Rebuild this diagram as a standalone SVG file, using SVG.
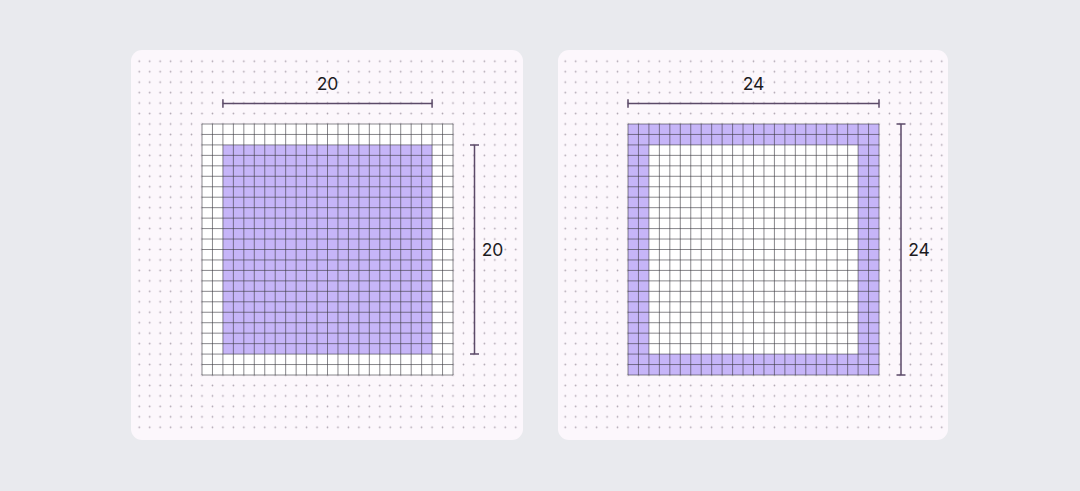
<svg xmlns="http://www.w3.org/2000/svg" xmlns:xlink="http://www.w3.org/1999/xlink" width="1080" height="491" viewBox="0 0 1080 491">
<style>
.panel{fill:#fcf7fc}
.grid{fill:none;stroke:#3a3840;stroke-opacity:.6;stroke-width:1}
.purple{fill:#c6b5f8}
.dim{fill:none;stroke:#5b4a68;stroke-width:1.5}
.lbl{font-family:Inter,"Noto Sans","Liberation Sans",sans-serif;font-size:17.5px;fill:#1c1b1f;text-anchor:middle}
</style>
<defs>
<pattern id="dots" patternUnits="userSpaceOnUse" x="-5.229" y="-5.229" width="10.4583" height="10.4583">
<circle cx="5.229" cy="5.229" r="0.85" fill="#aea4b0"/>
</pattern>
<path id="gridlines" class="grid" d="M0 0V251M10.46 0V251M20.92 0V251M31.38 0V251M41.83 0V251M52.29 0V251M62.75 0V251M73.21 0V251M83.67 0V251M94.13 0V251M104.58 0V251M115.04 0V251M125.5 0V251M135.96 0V251M146.42 0V251M156.88 0V251M167.33 0V251M177.79 0V251M188.25 0V251M198.71 0V251M209.17 0V251M219.63 0V251M230.08 0V251M240.54 0V251M251 0V251M0 0H251M0 10.46H251M0 20.92H251M0 31.38H251M0 41.83H251M0 52.29H251M0 62.75H251M0 73.21H251M0 83.67H251M0 94.13H251M0 104.58H251M0 115.04H251M0 125.5H251M0 135.96H251M0 146.42H251M0 156.88H251M0 167.33H251M0 177.79H251M0 188.25H251M0 198.71H251M0 209.17H251M0 219.63H251M0 230.08H251M0 240.54H251M0 251H251"/>
</defs>
<rect width="1080" height="491" fill="#e9eaee"/>

<g id="panel-left" transform="translate(202,124)">
<rect class="panel" x="-71" y="-74" width="392" height="390" rx="11"/>
<rect x="-68" y="-68" width="387" height="377" fill="url(#dots)"/>
<rect x="0" y="0" width="251" height="251" fill="#fff"/>
<rect class="purple" x="20.92" y="20.92" width="209.16" height="209.16"/>
<use xlink:href="#gridlines"/>
<text class="lbl" x="125.5" y="-34">20</text>
<text class="lbl" x="290.5" y="132">20</text>
</g>

<g id="panel-right" transform="translate(628,124)">
<rect class="panel" x="-70" y="-74" width="390" height="390" rx="11"/>
<rect x="-68" y="-68" width="387" height="377" fill="url(#dots)"/>
<rect x="0" y="0" width="251" height="251" fill="#fff"/>
<path class="purple" fill-rule="evenodd" d="M0 0H251V251H0Z M20.92 20.92V230.08H230.08V20.92Z"/>
<use xlink:href="#gridlines"/>
<text class="lbl" x="125.5" y="-34">24</text>
<text class="lbl" x="291" y="132">24</text>
</g>

<g id="connectors">
<path class="dim" d="M222.92 103.5H432.08M222.92 99.3V107.7M432.08 99.3V107.7"/>
<path class="dim" d="M474.5 144.92V354.08M470 144.92H479M470 354.08H479"/>
<path class="dim" d="M628 103.5H879M628 99.3V107.7M879 99.3V107.7"/>
<path class="dim" d="M901 124V375M896.5 124H905.5M896.5 375H905.5"/>
</g>
</svg>
